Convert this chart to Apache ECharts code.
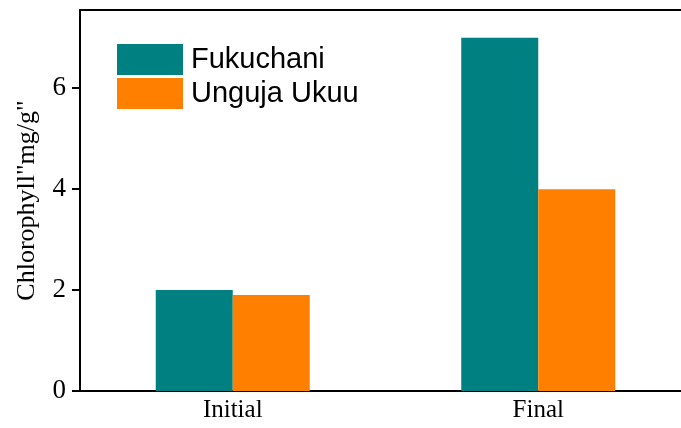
<!DOCTYPE html>
<html lang="en">
<head>
    <meta charset="UTF-8">
    <title>index</title>
    <script src="https://cdn.jsdelivr.net/npm/echarts@6/dist/echarts.min.js"></script>
    <style>
        html, body { margin: 0; padding: 0; background: #fff; }
    </style>
</head>
<body>
<div id="main" style="width: 681px;height:428px;"></div>
<script type="text/javascript">
    // data
    var stages = ['Initial', 'Final'];
    var fukuchani = [2.0, 7.0];
    var ungujaUkuu = [1.9, 4.0];
    var yTicks = [0, 2, 4, 6];

    var myChart = echarts.init(document.getElementById('main'));
    var serif = '"Liberation Serif", "Times New Roman", serif';

    var option = {
        animation: false,
        backgroundColor: '#fff',
        legend: {
            data: ['Fukuchani', 'Unguja Ukuu'],
            orient: 'vertical',
            left: 112,
            top: 39,
            itemWidth: 66,
            itemHeight: 31,
            itemGap: 3,
            icon: 'rect',
            textStyle: {
                fontFamily: '"Liberation Sans", Arial, sans-serif',
                fontSize: 29,
                color: '#000',
                padding: [0, 0, 0, 3]
            }
        },
        grid: {
            left: 80,
            top: 10,
            bottom: 37,
            right: -10,
            outerBoundsMode: 'none',
            containLabel: false
        },
        xAxis: [{
            type: 'category',
            data: stages,
            axisLine: { lineStyle: { color: '#000', width: 2 } },
            axisTick: { alignWithLabel: true, length: 8, lineStyle: { color: '#000', width: 2 } },
            axisLabel: { fontFamily: serif, fontSize: 25, color: '#000', margin: 7 }
        }, {
            type: 'category',
            position: 'top',
            data: stages,
            axisLine: { lineStyle: { color: '#000', width: 2 } },
            axisTick: { show: false },
            axisLabel: { show: false }
        }],
        yAxis: {
            type: 'value',
            min: 0,
            max: 7.55,
            name: 'Chlorophyll"mg/g"',
            nameLocation: 'middle',
            nameGap: 40,
            nameTextStyle: { fontFamily: serif, fontSize: 26, color: '#000' },
            axisLine: { show: true, lineStyle: { color: '#000', width: 2 } },
            axisTick: { show: true, customValues: yTicks, length: 8, lineStyle: { color: '#000', width: 2 } },
            axisLabel: {
                customValues: yTicks,
                fontFamily: serif, fontSize: 27, color: '#000', margin: 14
            },
            splitLine: { show: false }
        },
        series: [{
            name: 'Fukuchani',
            type: 'bar',
            data: fukuchani,
            barWidth: 77,
            barGap: '0%',
            itemStyle: { color: '#008080' }
        }, {
            name: 'Unguja Ukuu',
            type: 'bar',
            data: ungujaUkuu,
            barWidth: 77,
            barGap: '0%',
            itemStyle: { color: '#ff8000' }
        }]
    };

    myChart.setOption(option);
</script>
</body>
</html>
